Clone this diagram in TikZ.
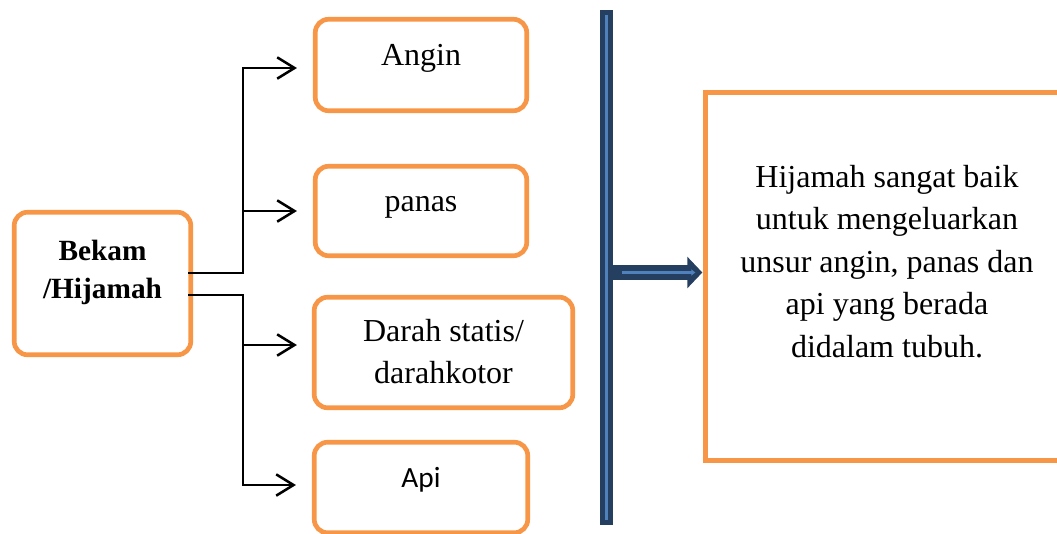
\documentclass[tikz,border=0pt]{standalone}
\usepackage{fontspec}
\setmainfont{Liberation Serif}
\newfontfamily\apifont{Carlito}
\usetikzlibrary{arrows.meta, calc}
\definecolor{boxorange}{RGB}{247,150,70}
\definecolor{bardark}{RGB}{36,63,96}
\definecolor{barlight}{RGB}{79,129,189}
\tikzset{
    item/.style={rectangle, rounded corners=10pt, draw=boxorange, line width=3.5pt, inner sep=2pt, align=center, font=\fontsize{24}{32}\selectfont},
    oneline/.style={text height=16pt, text depth=16pt},
    note/.style={rectangle, draw=boxorange, line width=3.5pt, inner sep=2pt, align=center, font=\fontsize{24}{31.9}\selectfont},
    link/.style={draw=black, line width=1.9pt},
    branch/.style={link, -{Straight Barb[length=13pt,width=16pt]}},
    bar/.style={rectangle, fill=bardark, minimum width=10pt, minimum height=386.25pt, inner sep=0pt},
    barstripe/.style={draw=barlight, line width=2.25pt},
    push/.style={draw=bardark, line width=11.25pt, -{Triangle[length=11.25pt,width=23pt]}},
}
\begin{document}
\begin{tikzpicture}[x=0.75pt, y=-0.75pt]
    \path[use as bounding box, clip] (0,0) rectangle (1057,533);
    \node[item, minimum width=132.4pt, minimum height=106.9pt, text depth=21pt,
          font=\fontsize{22}{28.5}\selectfont\bfseries] (bekam) at (102.5,283.5) {Bekam\\/Hijamah};
    \node[item, oneline, minimum width=158.6pt, minimum height=68.6pt] (angin) at (421,65) {Angin};
    \node[item, oneline, minimum width=158.6pt, minimum height=67.1pt] (panas) at (421,211) {panas};
    \node[item, minimum width=193.9pt, minimum height=82.9pt, text depth=1.5pt] (darah) at (443.5,352.5) {Darah statis/\\darahkotor};
    \node[item, text height=14pt, text depth=14pt, minimum width=160.1pt, minimum height=67.9pt,
          font=\apifont\fontsize{22}{28}\selectfont] (api) at (421,487.5) {Api};
    \node[bar] (bar) at (606.5,267.5) {};
    \node[note, minimum width=272pt, minimum height=276.4pt, text depth=23pt] (hijamah) at (887,276.5)
        {Hijamah sangat baik\\untuk mengeluarkan\\unsur angin, panas dan\\api yang berada\\didalam tubuh.};
    % branches to the left boxes
    \coordinate (up) at (243,273);
    \coordinate (down) at (243,295);
    \draw[branch] ($(bekam.east)+(-5,-10.5)$) -- (up) |- ($(angin.west)+(-16,3)$);
    \draw[branch] (up) |- ($(panas.west)+(-16,0)$);
    \draw[branch] ($(bekam.east)+(-5,11.5)$) -- (down) |- ($(darah.west)+(-15,-7.5)$);
    \draw[branch] (down) |- ($(api.west)+(-16,-2.5)$);
    % divider and arrow
    \draw[barstripe] ($(bar.north)+(0,5)$) -- ($(bar.south)+(0,-5)$);
    \draw[push] ($(bar.east)+(-2,5)$) -- ($(hijamah.west)+(-1,-4)$);
    \draw[barstripe, -{Triangle[length=3pt,width=4.5pt]}] ($(bar.east)+(9,5)$) -- ($(hijamah.west)+(-8,-4)$);
\end{tikzpicture}
\end{document}
